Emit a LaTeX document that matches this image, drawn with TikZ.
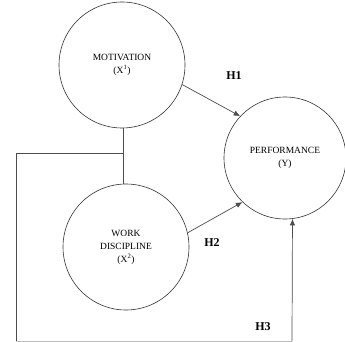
\documentclass[tikz,border=0pt]{standalone}
\usepackage{fontspec}
\setmainfont{Liberation Serif}
\usetikzlibrary{arrows.meta}
\begin{document}
\begin{tikzpicture}[x=1pt,y=-1pt,
  var/.style={circle,draw=black!80,line width=0.6pt,minimum size=#1,inner sep=0pt,align=center,font=\fontsize{9.5}{13}\selectfont},
  conn/.style={draw=black!70,line width=0.7pt},
  arr/.style={conn,-{Latex[length=6.5pt,width=5.5pt]}},
  hyp/.style={font=\fontsize{12}{14}\selectfont\bfseries,inner sep=0pt}]
\useasboundingbox (0,0) rectangle (345,342);
\node[var=126pt] (mot) at (122,65) {MOTIVATION\\(X\textsuperscript{1})};
\node[var=122pt] (perf) at (285,158) {PERFORMANCE\\(Y)};
\node[var=126pt] (wd) at (126,247) {WORK\\DISCIPLINE\\(X\textsuperscript{2})};
\node[hyp] (h1) at (234,76) {H1};
\node[hyp] (h2) at (212,243) {H2};
\node[hyp] (h3) at (263,327) {H3};
\draw[arr] (mot.-18) -- (perf.137);
\draw[arr] (wd.13) -- (perf.226);
\coordinate (j) at (123,153);
\coordinate (tl) at (16,153);
\coordinate (bl) at (16,341);
\coordinate (br) at (292,341);
\draw[conn] (mot.south -| j) -- (j |- wd.north);
\draw[conn] (j) -- (tl) -- (bl);
\draw[draw=black!25,line width=0.6pt] (bl) -- (br);
\draw[arr] (br) -- (perf.-83.4);
\end{tikzpicture}
\end{document}
